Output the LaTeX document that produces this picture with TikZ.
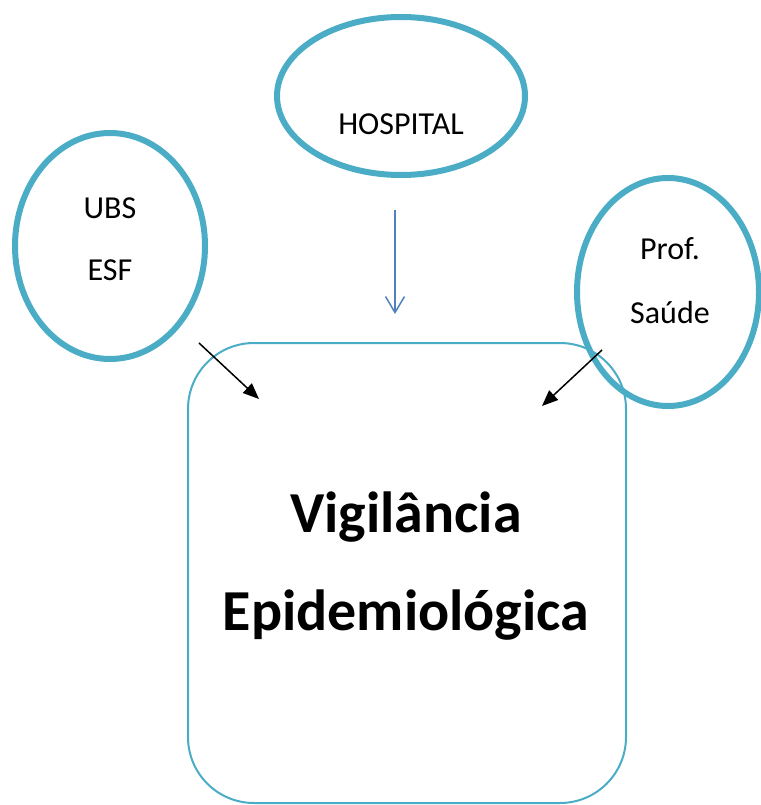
\documentclass[tikz,border=0pt]{standalone}
\usepackage{fontspec}
\setmainfont{Carlito}
\usetikzlibrary{arrows.meta, shapes.geometric}
\definecolor{ringblue}{HTML}{4BACC6}
\definecolor{arrowblue}{HTML}{4F81BD}

\begin{document}
\begin{tikzpicture}[x=1pt, y=-1pt,
	ring/.style={draw=ringblue, line width=6pt, ellipse, inner sep=0pt},
	word/.style={anchor=base, font=\fontsize{32}{38}\selectfont},
	bigword/.style={anchor=base, font=\fontsize{58}{70}\selectfont\bfseries}]
	\useasboundingbox (0,0) rectangle (760,805);
%	main box
	\node[draw=ringblue, line width=2pt, rounded corners=66pt, inner sep=0pt,
		minimum width=438pt, minimum height=460pt] (vig) at (407,573) {};
	\node[ring, minimum width=248pt, minimum height=158pt] (hosp) at (401,96) {};
	\node[ring, minimum width=190pt, minimum height=226pt] (ubs) at (110,246) {};
	\node[ring, minimum width=182pt, minimum height=228pt] (prof) at (668,292) {};
	\draw (401,135) node[word] {HOSPITAL};
	\draw (110,218) node[word] {UBS};
	\draw (110,280) node[word] {ESF};
	\draw (670,259) node[word] {Prof.};
	\draw (670,323) node[word] {Saúde};
	\draw (406,532) node[bigword] {Vigilância};
	\draw (406,630) node[bigword] {Epidemiológica};
	\coordinate (hospout) at (395,210);
	\coordinate (hospin) at (395,314);
	\coordinate (ubsout) at (199,343);
	\coordinate (ubsin) at (259,399);
	\coordinate (profout) at (602,350);
	\coordinate (profin) at (542,406);
	\draw [-{Straight Barb[length=16pt, width=19pt]}, draw=arrowblue, line width=1.5pt] (hospout) -- (hospin);
	\draw [-{Triangle[length=16pt, width=13pt]}, line width=1.5pt] (ubsout) -- (ubsin);
	\draw [-{Triangle[length=16pt, width=13pt]}, line width=1.5pt] (profout) -- (profin);
\end{tikzpicture}
\end{document}
